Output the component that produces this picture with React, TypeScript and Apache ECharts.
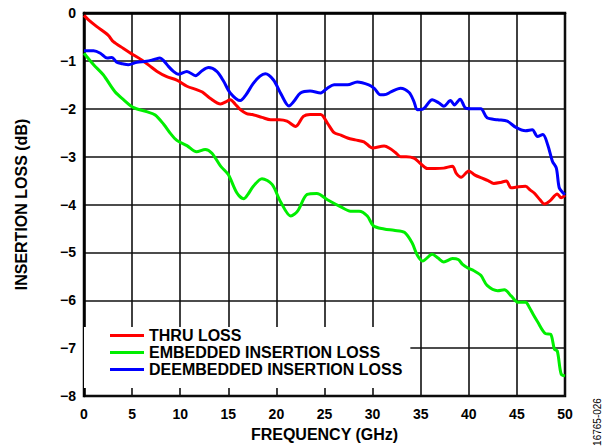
import React, { useEffect, useRef } from "react";
import * as echarts from "echarts";

const seriesNames = ["THRU LOSS", "EMBEDDED INSERTION LOSS", "DEEMBEDDED INSERTION LOSS"];
const seriesColors = ["#ff0000", "#00ee00", "#0000ff"];

const xTicks = [0, 5, 10, 15, 20, 25, 30, 35, 40, 45, 50];
const yTicks = [0, -1, -2, -3, -4, -5, -6, -7, -8];

const thruLoss = [
  [0, -0.05], [0.5, -0.15], [1.3, -0.28], [2.5, -0.46], [3.05, -0.6], [4.1, -0.74], [5.1, -0.87],
  [6.0, -0.98], [6.8, -1.1], [7.6, -1.22], [8.6, -1.33], [9.65, -1.4], [10.7, -1.53], [11.7, -1.6],
  [12.3, -1.65], [13.1, -1.78], [14.2, -1.9], [14.8, -1.85], [15.2, -1.81], [15.7, -1.9], [16.25, -2.02],
  [16.9, -2.1], [17.5, -2.12], [18.5, -2.18], [19.4, -2.23], [20.3, -2.23], [21.1, -2.26], [22.0, -2.37],
  [22.8, -2.16], [23.5, -2.12], [24.6, -2.12], [25.3, -2.3], [26.0, -2.5], [26.7, -2.55], [27.4, -2.61],
  [28.2, -2.65], [29.1, -2.69], [30.0, -2.82], [31.2, -2.78], [31.8, -2.83], [32.4, -2.92], [32.9, -3.0],
  [33.5, -3.0], [34.3, -3.03], [35.0, -3.15], [35.7, -3.25], [36.5, -3.25], [37.4, -3.24], [38.3, -3.2],
  [38.7, -3.35], [39.2, -3.43], [40.0, -3.3], [40.6, -3.38], [41.25, -3.44], [42.0, -3.5], [42.6, -3.56],
  [43.3, -3.54], [43.9, -3.51], [44.4, -3.65], [45.2, -3.63], [45.9, -3.62], [46.4, -3.7], [46.8, -3.76],
  [47.4, -3.9], [47.85, -3.99], [48.4, -3.93], [49.2, -3.78], [49.6, -3.86], [50, -3.8],
];

const embeddedLoss = [
  [0, -0.84], [1.0, -1.08], [2.0, -1.29], [3.2, -1.64], [4.1, -1.81], [5.1, -1.97], [6.5, -2.06],
  [7.4, -2.13], [8.3, -2.33], [9.0, -2.52], [9.65, -2.66], [10.7, -2.77], [11.7, -2.9], [12.6, -2.85],
  [13.3, -2.93], [14.2, -3.2], [15.0, -3.375], [15.9, -3.76], [16.6, -3.88], [17.0, -3.8], [17.6, -3.62],
  [18.5, -3.46], [19.55, -3.58], [20.4, -3.93], [21.5, -4.24], [22.2, -4.14], [23.2, -3.79], [24.2, -3.77],
  [25.3, -3.9], [26.7, -4.05], [27.7, -4.14], [28.6, -4.14], [29.45, -4.24], [30.1, -4.45], [31.2, -4.51],
  [32.2, -4.54], [33.3, -4.58], [34.1, -4.8], [34.65, -5.06], [35.2, -5.18], [36.2, -5.04], [36.8, -5.12],
  [37.4, -5.2], [38.3, -5.13], [38.9, -5.15], [39.35, -5.25], [39.85, -5.32], [40.5, -5.38], [41.25, -5.48],
  [41.9, -5.69], [43.0, -5.8], [43.7, -5.78], [44.4, -5.91], [45.1, -6.04], [45.9, -6.04], [46.3, -6.15],
  [46.7, -6.3], [47.15, -6.45], [48.0, -6.7], [48.5, -6.71], [48.9, -7.02], [49.2, -7.06], [49.6, -7.54],
  [50, -7.58],
];

const deembeddedLoss = [
  [0, -0.79], [1.0, -0.79], [1.7, -0.84], [2.4, -0.94], [2.9, -0.93], [3.4, -1.03], [4.0, -1.06],
  [4.6, -1.08], [5.5, -1.03], [6.5, -1.01], [7.3, -0.97], [7.9, -0.94], [8.3, -1.0], [8.8, -1.12],
  [9.3, -1.22], [9.8, -1.28], [10.7, -1.22], [11.6, -1.31], [12.3, -1.2], [12.95, -1.14], [13.8, -1.22],
  [14.5, -1.42], [15.2, -1.67], [16.25, -1.83], [16.8, -1.72], [17.6, -1.47], [18.3, -1.32], [18.85, -1.27],
  [19.7, -1.4], [20.5, -1.7], [21.3, -1.94], [21.8, -1.85], [22.5, -1.67], [23.5, -1.63], [24.6, -1.67],
  [25.3, -1.57], [26.0, -1.5], [27.4, -1.5], [28.4, -1.44], [29.6, -1.5], [30.2, -1.58], [30.8, -1.71],
  [31.4, -1.7], [31.9, -1.65], [32.9, -1.57], [33.8, -1.66], [34.3, -1.85], [34.65, -2.02], [35.3, -2.0],
  [36.2, -1.81], [36.9, -1.88], [37.4, -1.95], [38.1, -1.83], [38.5, -1.92], [39.1, -1.8], [39.7, -1.99],
  [40.5, -2.0], [41.25, -2.0], [41.9, -2.19], [43.0, -2.23], [44.0, -2.26], [44.9, -2.39], [45.9, -2.46],
  [46.6, -2.44], [47.15, -2.58], [47.7, -2.54], [48.2, -2.75], [48.7, -3.1], [49.1, -3.24], [49.4, -3.65],
  [49.8, -3.76], [50, -3.79],
];

const seriesData = [thruLoss, embeddedLoss, deembeddedLoss];

const FONT = "'Liberation Sans', Arial, Helvetica, sans-serif";

export default function App() {
  const ref = useRef<HTMLDivElement>(null);
  useEffect(() => {
    if (!ref.current) return;
    const chart = echarts.init(ref.current, null, { renderer: "svg" });
    chart.setOption({
      animation: false,
      backgroundColor: "#ffffff",
      grid: {
        left: 84,
        top: 13,
        right: 45,
        bottom: 49,
        show: true,
        borderColor: "#000",
        borderWidth: 2.5,
        backgroundColor: "transparent",
      },
      legend: {
        orient: "vertical",
        left: 84,
        top: 327,
        padding: [0, 8, 10, 26],
        backgroundColor: "#ffffff",
        icon: "rect",
        itemWidth: 34,
        itemHeight: 3,
        itemGap: 0,
        selectedMode: false,
        data: seriesNames,
        textStyle: {
          fontFamily: FONT,
          fontWeight: "bold",
          fontSize: 16,
          color: "#000",
          lineHeight: 17,
        },
      },
      xAxis: {
        type: "value",
        min: 0,
        max: 50,
        interval: 5,
        name: "FREQUENCY (GHz)",
        nameLocation: "middle",
        nameGap: 30,
        nameTextStyle: { fontFamily: FONT, fontWeight: "bold", fontSize: 16, color: "#000" },
        axisLine: { show: true, lineStyle: { color: "#000", width: 2.5 } },
        axisTick: { show: false },
        axisLabel: {
          fontFamily: FONT,
          fontWeight: "bold",
          fontSize: 14,
          color: "#000",
          margin: 11,
          formatter: (v: number) => (xTicks.includes(v) ? String(v) : ""),
        },
        splitLine: { show: true, lineStyle: { color: "#111", width: 1.6 } },
      },
      yAxis: {
        type: "value",
        min: -8,
        max: 0,
        interval: 1,
        name: "INSERTION LOSS (dB)",
        nameLocation: "middle",
        nameGap: 55,
        nameTextStyle: { fontFamily: FONT, fontWeight: "bold", fontSize: 16, color: "#000" },
        axisLine: { show: true, lineStyle: { color: "#000", width: 2.5 } },
        axisTick: { show: false },
        axisLabel: {
          fontFamily: FONT,
          fontWeight: "bold",
          fontSize: 14,
          color: "#000",
          margin: 8,
          formatter: (v: number) =>
            yTicks.includes(v) ? (v < 0 ? "\u2212" + Math.abs(v) : String(v)) : "",
        },
        splitLine: { show: true, lineStyle: { color: "#111", width: 1.6 } },
      },
      graphic: [
        {
          type: "text",
          x: 597,
          y: 422,
          rotation: Math.PI / 2,
          style: {
            text: "16765-026",
            fontFamily: FONT,
            fontSize: 10,
            fill: "#000",
            align: "center",
            verticalAlign: "middle",
          },
        },
      ],
      series: seriesNames.map((name, i) => ({
        name,
        type: "line",
        data: seriesData[i],
        showSymbol: false,
        symbol: "none",
        smooth: 0.3,
        lineStyle: { color: seriesColors[i], width: 3 },
        itemStyle: { color: seriesColors[i] },
        z: 3,
      })),
    });
    return () => chart.dispose();
  }, []);
  return (
    <div
      ref={ref}
      style={{ position: "absolute", left: 0, top: 0, width: 610, height: 447 }}
    />
  );
}
